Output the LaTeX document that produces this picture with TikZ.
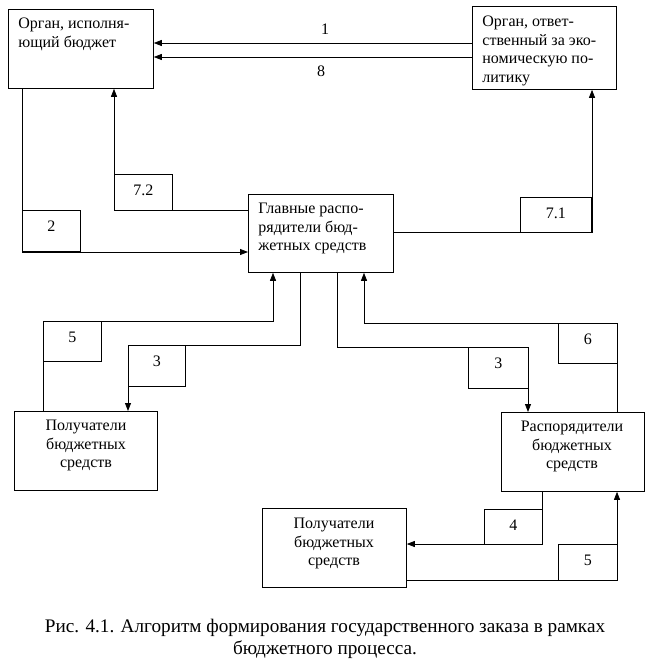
\documentclass[tikz,border=0pt]{standalone}
\usepackage{fontspec}
\setmainfont{Liberation Serif}
\usetikzlibrary{arrows.meta}
\begin{document}
\begin{tikzpicture}[x=1pt,y=-1pt,line width=0.8pt,
  blk/.style={draw, inner sep=0pt, anchor=north west},
  txt/.style={inner sep=0pt, align=left, anchor=north west, font=\fontsize{16}{18.4}\selectfont},
  ctxt/.style={inner sep=0pt, align=center, anchor=north, font=\fontsize{16}{18.4}\selectfont},
  lbl/.style={draw, inner sep=0pt, anchor=north west,
    label={[anchor=base, yshift=-21.3pt, inner sep=0pt, font=\fontsize{16}{18.4}\selectfont]north:#1}},
  arr/.style={-{Triangle[length=8pt,width=6pt]}}]
\useasboundingbox (0,0) rectangle (655,664);

% main boxes
\node[blk, minimum width=145pt, minimum height=79pt] (A) at (8,9) {};
\node[txt] (At) at (18,18) {Орган, исполня-\\ющий бюджет};
\node[blk, minimum width=144pt, minimum height=83pt] (B) at (472,6) {};
\node[txt] (Bt) at (482,16) {Орган, ответ-\\ственный за эко-\\номическую по-\\литику};
\node[blk, minimum width=145pt, minimum height=78pt] (G) at (248,194) {};
\node[txt] (Gt) at (258,203) {Главные распо-\\рядители бюд-\\жетных средств};
\node[blk, minimum width=143pt, minimum height=79pt] (P1) at (14,411) {};
\node[ctxt] (P1t) at (86,420) {Получатели\\бюджетных\\средств};
\node[blk, minimum width=143pt, minimum height=79pt] (R) at (501,412) {};
\node[ctxt] (Rt) at (572,421) {Распорядители\\бюджетных\\средств};
\node[blk, minimum width=144pt, minimum height=79pt] (P2) at (262,508) {};
\node[ctxt] (P2t) at (334,518) {Получатели\\бюджетных\\средств};

% label boxes
\node[lbl=2, minimum width=58pt, minimum height=41pt] (b2) at (22,210) {};
\node[lbl=7.2, minimum width=58pt, minimum height=36pt] (b72) at (114,174) {};
\node[lbl=7.1, minimum width=71pt, minimum height=35pt] (b71) at (520,197) {};
\node[lbl=5, minimum width=58pt, minimum height=40pt] (b5a) at (43,321) {};
\node[lbl=3, minimum width=57pt, minimum height=41pt] (b3a) at (128,345) {};
\node[lbl=3, minimum width=60pt, minimum height=41pt] (b3b) at (468,347) {};
\node[lbl=6, minimum width=59pt, minimum height=40pt] (b6) at (558,323) {};
\node[lbl=4, minimum width=58pt, minimum height=35pt] (b4) at (484,509) {};
\node[lbl=5, minimum width=59pt, minimum height=36pt] (b5b) at (558,544) {};

% connector bends
\coordinate (c1) at (0,43);
\coordinate (c8) at (0,57);
\coordinate (c2) at (22,252);
\coordinate (c72) at (114,210);
\coordinate (c71) at (592,232);
\coordinate (c5a) at (43,321);
\coordinate (c5b) at (273,321);
\coordinate (c3a) at (300,345);
\coordinate (c3b) at (128,345);
\coordinate (c3c) at (337,347);
\coordinate (c3d) at (528,347);
\coordinate (c6a) at (617,323);
\coordinate (c6b) at (364,323);
\coordinate (c4) at (542,544);
\coordinate (c5c) at (617,580);

\draw[arr] (B.west |- c1) -- (A.east |- c1);
\draw[arr] (B.west |- c8) -- (A.east |- c8);
\node[font=\fontsize{16}{18.4}\selectfont, inner sep=0pt] (n1) at (325,29) {1};
\node[font=\fontsize{16}{18.4}\selectfont, inner sep=0pt] (n8) at (321,71) {8};
\draw[arr] (A.south -| c2) -- (c2) -- (G.west |- c2);
\draw[arr] (G.west |- c72) -- (c72) -- (A.south -| c72);
\draw[arr] (G.east |- c71) -- (c71) -- (B.south -| c71);
\draw[arr] (P1.north -| c5a) -- (c5a) -- (c5b) -- (G.south -| c5b);
\draw[arr] (G.south -| c3a) -- (c3a) -- (c3b) -- (P1.north -| c3b);
\draw[arr] (G.south -| c3c) -- (c3c) -- (c3d) -- (R.north -| c3d);
\draw[arr] (R.north -| c6a) -- (c6a) -- (c6b) -- (G.south -| c6b);
\draw[arr] (R.south -| c4) -- (c4) -- (P2.east |- c4);
\draw[arr] (P2.east |- c5c) -- (c5c) -- (R.south -| c5c);

% caption
\node[inner sep=0pt, align=center, anchor=north, font=\fontsize{19.2}{21.5}\selectfont] (cap) at (325,619)
  {Рис. 4.1. Алгоритм формирования государственного заказа в рамках\\бюджетного процесса.};
\end{tikzpicture}
\end{document}
